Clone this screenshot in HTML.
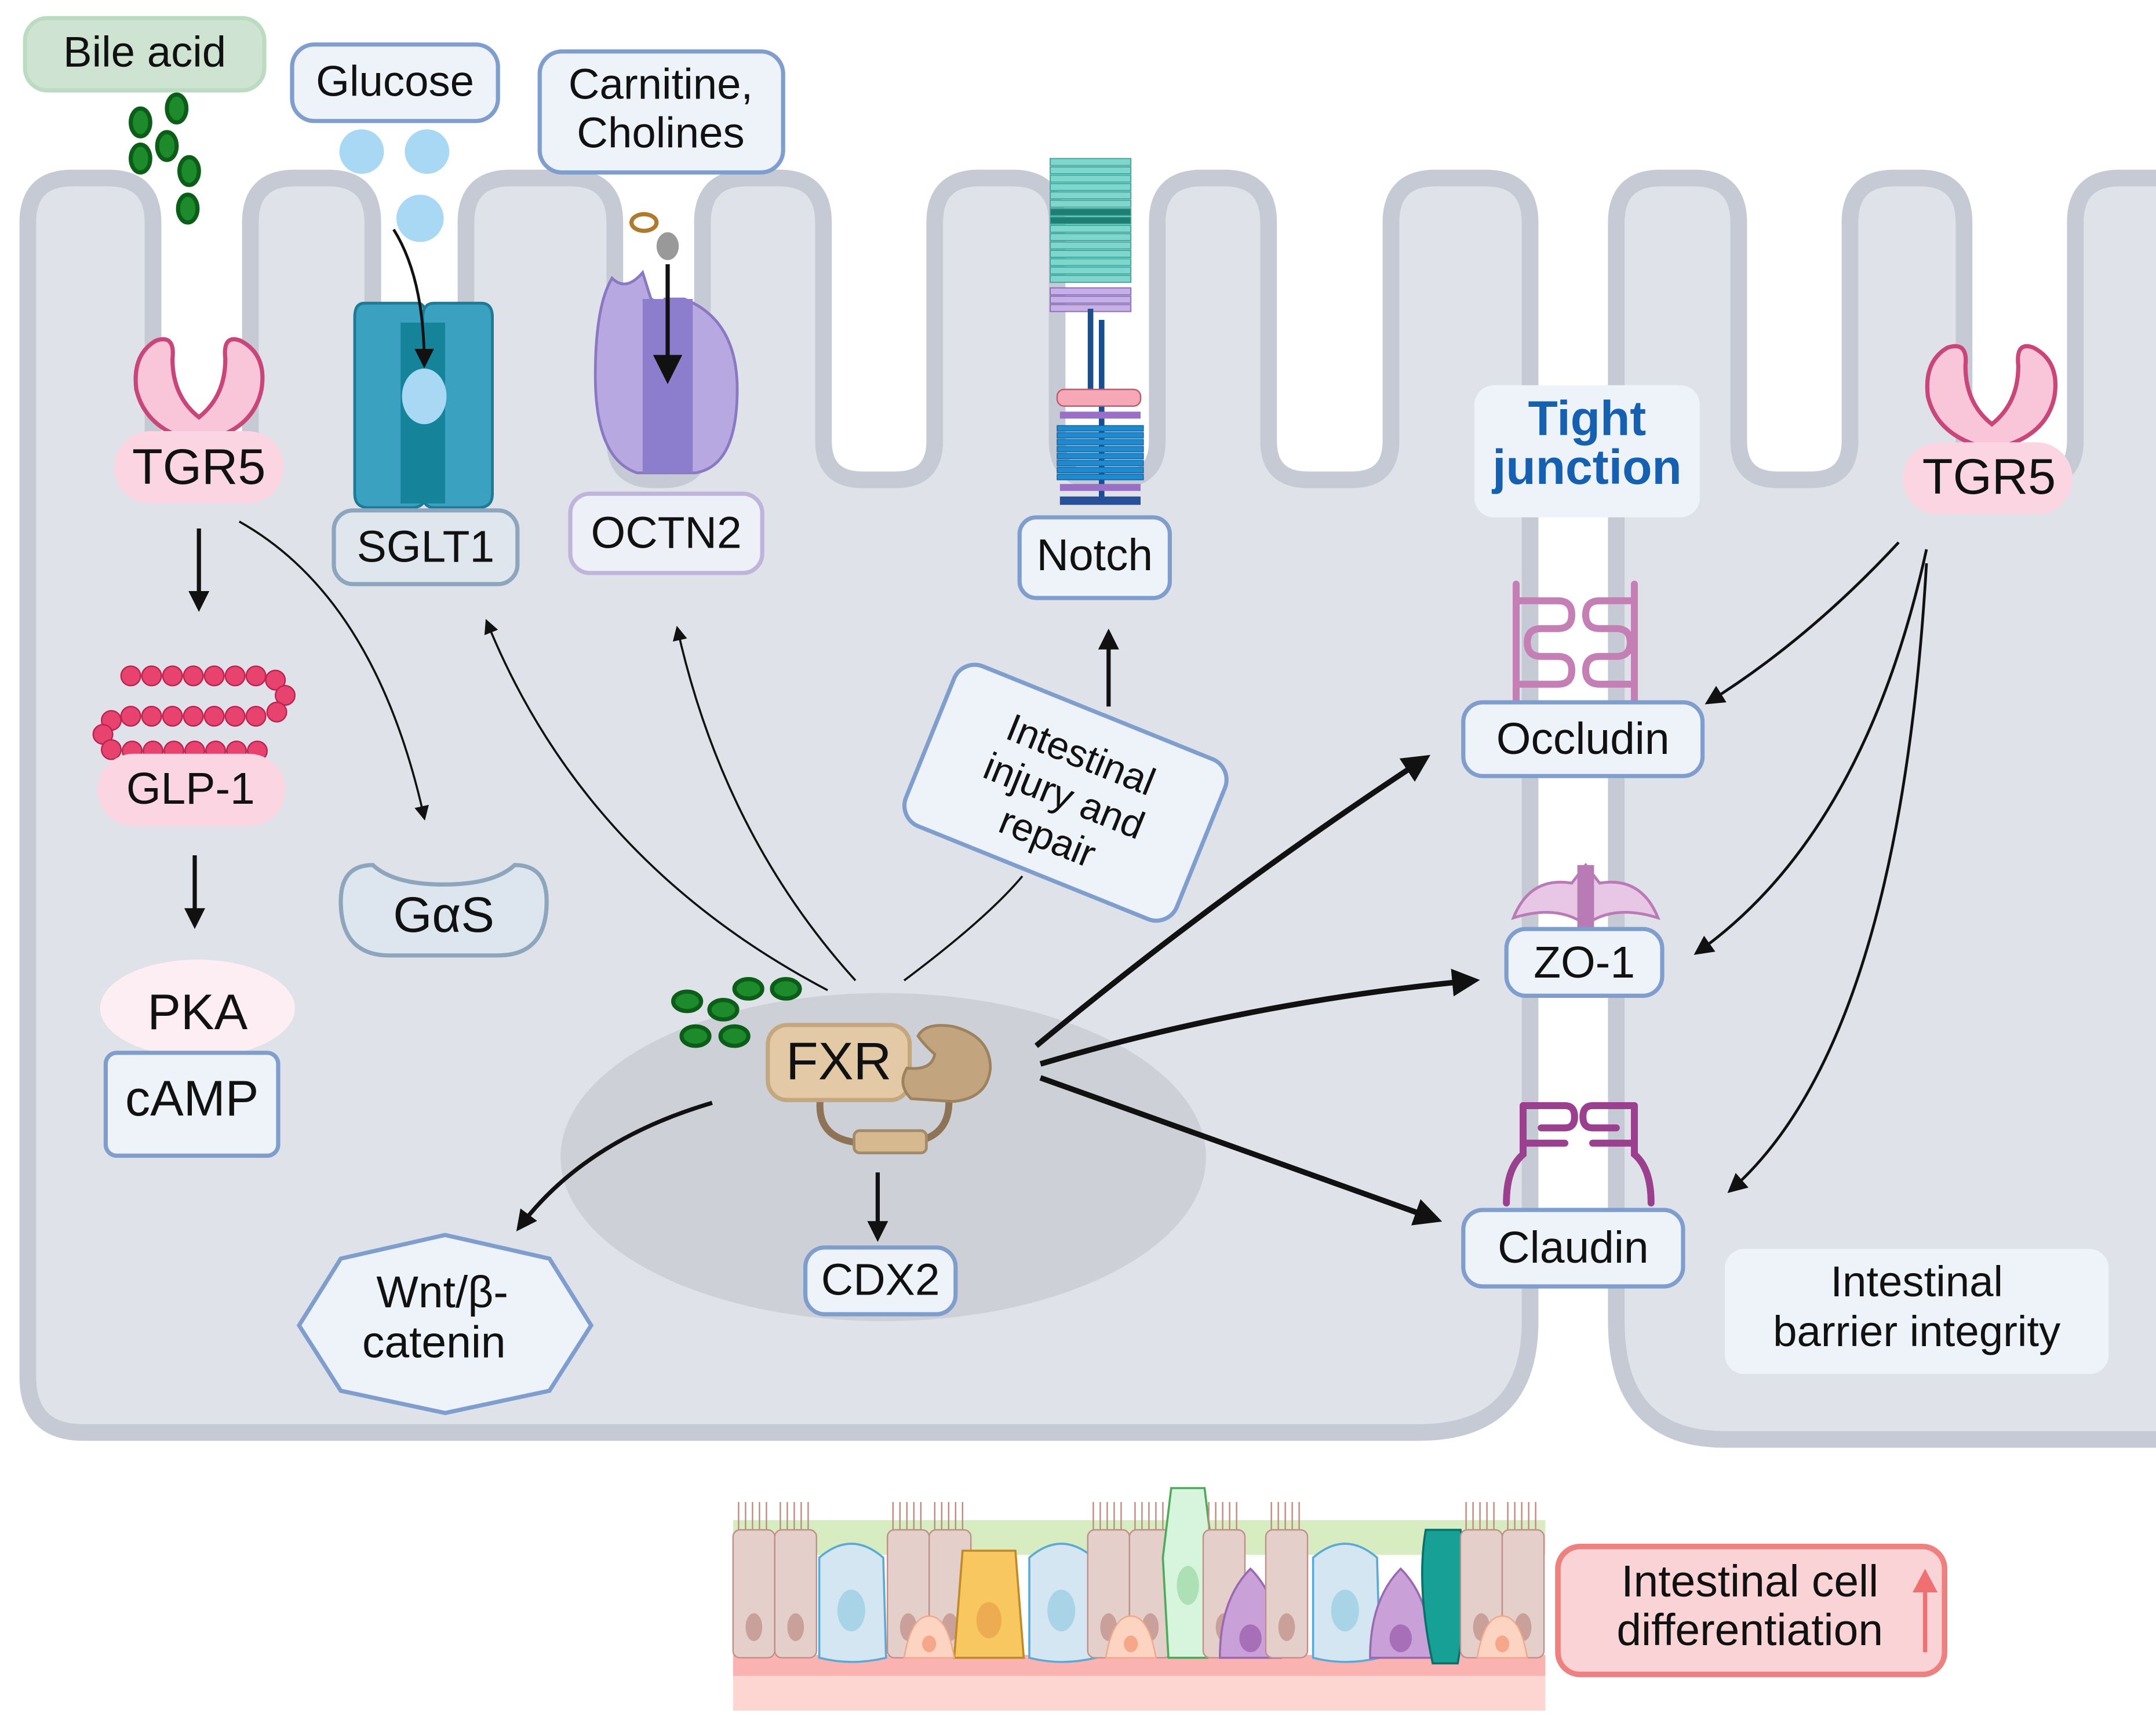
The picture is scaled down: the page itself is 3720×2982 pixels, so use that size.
<!DOCTYPE html>
<html><head><meta charset="utf-8"><style>
html,body{margin:0;padding:0;background:#fff;}
svg{display:block;}
text{font-family:"Liberation Sans",sans-serif;fill:#111;}
</style></head><body>
<svg id="s" width="3720" height="2982" viewBox="0 0 1550 1242.5" xmlns="http://www.w3.org/2000/svg">
<defs>
<marker id="ah" viewBox="0 0 10 10" refX="8" refY="5" markerWidth="5" markerHeight="5" orient="auto-start-reverse"><path d="M0,0 L10,5 L0,10 z" fill="#111"/></marker>
<marker id="ahs" viewBox="0 0 10 10" refX="8" refY="5" markerWidth="7" markerHeight="7" orient="auto"><path d="M0,0 L10,5 L0,10 z" fill="#111"/></marker>
<linearGradient id="g1" x1="0" y1="0" x2="1" y2="0"><stop offset="0" stop-color="#777" stop-opacity="0.3"/><stop offset="0.3" stop-color="#222"/></linearGradient>
</defs>
<path id="lc" fill="#dfe3e9" stroke="#c6cad4" stroke-width="12"/>
<path id="rc" fill="#dfe3e9" stroke="#c6cad4" stroke-width="12"/>

<!-- nucleus -->
<ellipse cx="635" cy="832" rx="232" ry="118" fill="#cdd1d7"/>

<!-- Bile acid -->
<rect x="18" y="13" width="172" height="52" rx="16" fill="#cfe3d3" stroke="#bcdcc2" stroke-width="3"/>
<text x="104" y="48" font-size="31" text-anchor="middle">Bile acid</text>
<g fill="#1d8a2c" stroke="#0b5d17" stroke-width="3">
<ellipse cx="127" cy="78" rx="7" ry="10"/><ellipse cx="101" cy="88" rx="7" ry="10"/><ellipse cx="120" cy="105" rx="7" ry="10"/><ellipse cx="101" cy="114" rx="7" ry="10"/><ellipse cx="136" cy="123" rx="7" ry="10"/><ellipse cx="135" cy="150" rx="7" ry="10"/>
</g>
<!-- Glucose -->
<rect x="210" y="32" width="148" height="55" rx="16" fill="#eef3fa" stroke="#7f9dcd" stroke-width="3"/>
<text x="284" y="69" font-size="31" text-anchor="middle">Glucose</text>
<g fill="#a8d8f3"><circle cx="260" cy="109" r="16"/><circle cx="307" cy="109" r="16"/><circle cx="302" cy="157" r="17"/></g>
<!-- Carnitine -->
<rect x="388" y="37" width="175" height="87" rx="16" fill="#eef3fa" stroke="#7f9dcd" stroke-width="3"/>
<text x="475" y="71" font-size="31" text-anchor="middle">Carnitine,</text>
<text x="475" y="106" font-size="31" text-anchor="middle">Cholines</text>
<ellipse cx="463" cy="160" rx="9" ry="6" fill="none" stroke="#b07a2c" stroke-width="3"/>
<ellipse cx="480" cy="177" rx="8" ry="10" fill="#999"/>

<!-- TGR5 left -->
<path d="M112,245 Q95,255 98,280 Q105,310 143,318 Q182,310 188,280 Q192,255 173,245 Q160,240 162,258 Q162,285 143,300 Q124,285 124,258 Q126,240 112,245Z" fill="#f9c6d9" stroke="#c9467a" stroke-width="3"/>
<rect x="82" y="310" width="122" height="52" rx="26" fill="#fcd5e3"/>
<text x="143" y="348" font-size="36" text-anchor="middle">TGR5</text>
<line x1="143" y1="380" x2="143" y2="437" stroke="#111" stroke-width="3" marker-end="url(#ah)"/>

<!-- GLP-1 chain -->
<g fill="#e8436f" stroke="#b8234f" stroke-width="1">
<circle cx="94" cy="486" r="7"/><circle cx="109" cy="486" r="7"/><circle cx="124" cy="486" r="7"/><circle cx="139" cy="486" r="7"/><circle cx="154" cy="486" r="7"/><circle cx="169" cy="486" r="7"/><circle cx="184" cy="486" r="7"/><circle cx="198" cy="489" r="7"/><circle cx="205" cy="500" r="7"/><circle cx="199" cy="512" r="7"/>
<circle cx="184" cy="515" r="7"/><circle cx="169" cy="515" r="7"/><circle cx="154" cy="515" r="7"/><circle cx="139" cy="515" r="7"/><circle cx="124" cy="515" r="7"/><circle cx="109" cy="515" r="7"/><circle cx="94" cy="515" r="7"/><circle cx="80" cy="518" r="7"/><circle cx="74" cy="528" r="7"/><circle cx="80" cy="539" r="7"/>
<circle cx="95" cy="540" r="7"/><circle cx="110" cy="540" r="7"/><circle cx="125" cy="540" r="7"/><circle cx="140" cy="540" r="7"/><circle cx="155" cy="540" r="7"/><circle cx="170" cy="540" r="7"/><circle cx="185" cy="540" r="7"/>
</g>
<rect x="70" y="542" width="135" height="52" rx="26" fill="#fcd5e3"/>
<text x="137" y="578" font-size="32" text-anchor="middle">GLP-1</text>
<line x1="140" y1="615" x2="140" y2="665" stroke="#111" stroke-width="3" marker-end="url(#ah)"/>
<ellipse cx="142" cy="725" rx="70" ry="35" fill="#fdeef4"/>
<text x="142" y="740" font-size="36" text-anchor="middle">PKA</text>
<rect x="76" y="757" width="124" height="74" rx="8" fill="#eef3fa" stroke="#7f9dcd" stroke-width="3"/>
<text x="138" y="802" font-size="36" text-anchor="middle">cAMP</text>

<!-- TGR5 -> GaS -->
<path d="M172,375 Q270,430 305,588" fill="none" stroke="#111" stroke-width="1.5" marker-end="url(#ahs)"/>
<path d="M268,622 Q245,622 245,648 Q245,687 280,687 L358,687 Q393,687 393,648 Q393,622 370,622 Q355,636 319,636 Q283,636 268,622Z" fill="#dde5ee" stroke="#8ea6bd" stroke-width="3"/>
<text x="319" y="670" font-size="36" text-anchor="middle">GαS</text>

<!-- SGLT1 -->
<path d="M262,218 L300,218 Q306,218 306,228 L306,355 Q306,365 296,365 L265,365 Q255,365 255,355 L255,228 Q255,218 262,218Z" fill="#3aa2c0" stroke="#1e7a96" stroke-width="2"/>
<path d="M312,218 L346,218 Q354,218 354,228 L354,355 Q354,365 344,365 L312,365 Q304,365 304,355 L304,228 Q304,218 312,218Z" fill="#3aa2c0" stroke="#1e7a96" stroke-width="2"/>
<rect x="288" y="232" width="32" height="130" fill="#15839a"/>
<ellipse cx="305" cy="285" rx="16" ry="20" fill="#a8d8f3"/>
<path d="M283,165 Q305,200 305,262" fill="none" stroke="#111" stroke-width="2" marker-end="url(#ahs)"/>
<rect x="240" y="367" width="132" height="53" rx="14" fill="#dfe6ee" stroke="#8ea6bd" stroke-width="3"/>
<text x="306" y="404" font-size="32" text-anchor="middle">SGLT1</text>

<!-- OCTN2 -->
<path d="M440,200 Q450,210 462,196 L468,215 Q478,215 478,340 L458,340 Q428,330 428,270 Q428,220 440,200Z" fill="#b8a8e2" stroke="#8a78c2" stroke-width="2"/>
<path d="M492,215 Q530,230 530,280 Q530,335 500,340 L478,340 L478,215Z" fill="#b8a8e2" stroke="#8a78c2" stroke-width="2"/>
<rect x="462" y="215" width="36" height="125" fill="#8c7dcd"/>
<line x1="480" y1="190" x2="480" y2="272" stroke="#111" stroke-width="3" marker-end="url(#ahs)"/>
<rect x="410" y="355" width="138" height="57" rx="14" fill="#eef0f7" stroke="#c0b3dc" stroke-width="3"/>
<text x="479" y="394" font-size="32" text-anchor="middle">OCTN2</text>

<!-- Notch -->
<g id="notch"></g>
<rect x="733" y="372" width="108" height="58" rx="12" fill="#eef3fa" stroke="#7f9dcd" stroke-width="3"/>
<text x="787" y="410" font-size="32" text-anchor="middle">Notch</text>

<!-- Tight junction -->
<rect x="1060" y="277" width="162" height="95" rx="14" fill="#eef3fa"/>
<text x="1141" y="313" font-size="35" font-weight="bold" text-anchor="middle" style="fill:#1560b0">Tight</text>
<text x="1141" y="348" font-size="35" font-weight="bold" text-anchor="middle" style="fill:#1560b0">junction</text>

<!-- Occludin struct -->
<g fill="none" stroke="#c47fb5" stroke-width="5" stroke-linecap="round">
<path d="M1090,420 L1090,505 M1175,420 L1175,505"/>
<path d="M1090,432 L1120,432 Q1130,432 1130,442 Q1130,452 1120,452 L1108,452 Q1098,452 1098,462 Q1098,472 1108,472 L1120,472 Q1130,472 1130,482 Q1130,492 1120,492 L1090,492"/>
<path d="M1175,432 L1150,432 Q1140,432 1140,442 Q1140,452 1150,452 L1162,452 Q1172,452 1172,462 Q1172,472 1162,472 L1150,472 Q1140,472 1140,482 Q1140,492 1150,492 L1175,492"/>
</g>
<rect x="1052" y="505" width="172" height="53" rx="14" fill="#eef3fa" stroke="#7f9dcd" stroke-width="3"/>
<text x="1138" y="542" font-size="32" text-anchor="middle">Occludin</text>
<!-- ZO-1 struct -->
<path d="M1088,660 Q1100,630 1130,635 L1140,622 L1150,635 Q1180,630 1192,660 Q1160,650 1140,665 Q1120,650 1088,660Z" fill="#e8c6e6" stroke="#b87bb5" stroke-width="2"/>
<rect x="1134" y="622" width="12" height="46" fill="#b87bb5"/>
<rect x="1083" y="668" width="112" height="48" rx="14" fill="#eef3fa" stroke="#7f9dcd" stroke-width="3"/>
<text x="1139" y="703" font-size="32" text-anchor="middle">ZO-1</text>
<!-- Claudin struct -->
<g fill="none" stroke="#9b3f8f" stroke-width="5" stroke-linecap="round">
<path d="M1083,865 Q1083,840 1095,830 L1095,795 M1187,865 Q1187,840 1175,830 L1175,795"/>
<path d="M1095,795 L1125,795 Q1132,795 1132,803 Q1132,811 1125,811 L1108,811 M1095,822 L1125,822"/>
<path d="M1175,795 L1145,795 Q1138,795 1138,803 Q1138,811 1145,811 L1162,811 M1175,822 L1145,822"/>
</g>
<rect x="1052" y="870" width="158" height="55" rx="14" fill="#eef3fa" stroke="#7f9dcd" stroke-width="3"/>
<text x="1131" y="908" font-size="32" text-anchor="middle">Claudin</text>

<rect x="1240" y="898" width="276" height="90" rx="14" fill="#eef3fa"/>
<text x="1378" y="932" font-size="31" text-anchor="middle">Intestinal</text>
<text x="1378" y="968" font-size="31" text-anchor="middle">barrier integrity</text>

<!-- TGR5 right -->
<path d="M1400,250 Q1383,260 1386,285 Q1393,315 1432,323 Q1471,315 1477,285 Q1481,260 1462,250 Q1449,245 1451,263 Q1451,290 1432,305 Q1413,290 1413,263 Q1415,245 1400,250Z" fill="#f9c6d9" stroke="#c9467a" stroke-width="3"/>
<rect x="1368" y="318" width="122" height="52" rx="26" fill="#fcd5e3"/>
<text x="1430" y="355" font-size="36" text-anchor="middle">TGR5</text>
<g fill="none" stroke="#111" stroke-width="2">
<path d="M1365,390 Q1300,460 1228,505" marker-end="url(#ahs)"/>
<path d="M1385,395 Q1340,600 1220,685" marker-end="url(#ahs)"/>
<path d="M1385,405 Q1365,750 1244,856" marker-end="url(#ahs)"/>
</g>

<!-- Injury box -->
<g transform="translate(766,570) rotate(22)">
<rect x="-105" y="-62" width="210" height="124" rx="16" fill="#eef3fa" stroke="#7f9dcd" stroke-width="3"/>
<text x="0" y="-20" font-size="28" text-anchor="middle">Intestinal</text>
<text x="0" y="12" font-size="28" text-anchor="middle">injury and</text>
<text x="0" y="44" font-size="28" text-anchor="middle">repair</text>
</g>
<line x1="797" y1="508" x2="797" y2="455" stroke="#111" stroke-width="3" marker-end="url(#ah)"/>

<!-- FXR arrows -->
<g fill="none" stroke="#111">
<path d="M595,712 Q420,620 350,447" stroke-width="1.5" marker-end="url(#ahs)"/>
<path d="M615,705 Q520,600 487,452" stroke-width="1.5" marker-end="url(#ahs)"/>
<path d="M650,705 Q710,660 735,630" stroke-width="1.5"/>
<path d="M745,752 Q880,640 1025,545" stroke-width="4" marker-end="url(#ah)"/>
<path d="M748,765 Q900,720 1060,705" stroke-width="4" marker-end="url(#ah)"/>
<path d="M748,775 Q900,830 1033,877" stroke-width="4" marker-end="url(#ah)"/>
<path d="M512,793 Q420,820 373,883" stroke-width="3" marker-end="url(#ah)"/>
<path d="M631,843 L631,890" stroke-width="3" marker-end="url(#ah)"/>
</g>

<!-- FXR -->
<g fill="#1d8a2c" stroke="#0b5d17" stroke-width="3">
<ellipse cx="494" cy="720" rx="10" ry="7"/><ellipse cx="520" cy="726" rx="10" ry="7"/><ellipse cx="538" cy="711" rx="10" ry="7"/><ellipse cx="565" cy="711" rx="10" ry="7"/><ellipse cx="500" cy="745" rx="10" ry="7"/><ellipse cx="528" cy="745" rx="10" ry="7"/>
</g>
<path d="M590,788 Q585,822 625,822 L645,822 Q685,822 682,788" fill="none" stroke="#8e7356" stroke-width="5"/>
<rect x="614" y="813" width="52" height="16" rx="4" fill="#d7b98f" stroke="#a38a69" stroke-width="2"/>
<rect x="552" y="737" width="102" height="54" rx="14" fill="#e3c9a6" stroke="#c4a67f" stroke-width="3"/>
<text x="603" y="776" font-size="38" text-anchor="middle">FXR</text>
<path d="M660,745 Q665,735 685,738 Q712,745 712,768 Q710,790 685,792 L655,790 Q645,780 652,768 Q670,770 672,758 Q665,752 660,745Z" fill="#c2a57f" stroke="#9d8260" stroke-width="2"/>

<rect x="579" y="897" width="108" height="48" rx="14" fill="#eef3fa" stroke="#7f9dcd" stroke-width="3"/>
<text x="633" y="931" font-size="32" text-anchor="middle">CDX2</text>
<polygon points="215,953 245,905 320,888 395,905 425,953 395,1000 320,1016 245,1000" fill="#eef3fa" stroke="#7f9dcd" stroke-width="3"/>
<text x="318" y="940" font-size="32" text-anchor="middle">Wnt/β-</text>
<text x="312" y="976" font-size="32" text-anchor="middle">catenin</text>

<!-- epithelium strip -->
<rect x="527" y="1093" width="584" height="25" fill="#d7ecc0"/>
<rect x="527" y="1190" width="584" height="15" fill="#fbb3b1"/>
<rect x="527" y="1205" width="584" height="25" fill="#fdd6d2"/>
<g id="epi"></g>

<rect x="1120" y="1112" width="278" height="92" rx="16" fill="#f9d3d5" stroke="#ef8080" stroke-width="4"/>
<text x="1258" y="1148" font-size="32" text-anchor="middle">Intestinal cell</text>
<text x="1258" y="1183" font-size="32" text-anchor="middle">differentiation</text>
<line x1="1384" y1="1188" x2="1384" y2="1135" stroke="#ef7070" stroke-width="3"/>
<path d="M1375,1145 L1384,1128 L1393,1145Z" fill="#ef7070"/>
</svg>
<script>
(function(){
var T=128,G=345,r=32,g=28;
function build(f,start,end){
 var d=start;
 for(var i=0;i<f.length;i++){
  var a=f[i][0],b=f[i][1];
  if(i>0){d+=" L"+a+","+(T+r);} 
  d+=" Q"+a+","+T+" "+(a+r)+","+T+" L"+(b-r)+","+T+" Q"+b+","+T+" "+b+","+(T+r);
  if(i<f.length-1){var n=f[i+1][0];d+=" L"+b+","+(G-g)+" Q"+b+","+G+" "+(b+g)+","+G+" L"+(n-g)+","+G+" Q"+n+","+G+" "+n+","+(G-g);}
 }
 return d+end;
}
document.getElementById("lc").setAttribute("d",build([[20,110],[180,268],[335,442],[505,592],[672,760],[832,912],[1000,1100]],"M60,1030 Q20,1030 20,990 L20,"+(T+r)," L1100,950 Q1100,1030 1020,1030 Z"));
document.getElementById("rc").setAttribute("d",build([[1162,1250],[1330,1412],[1492,1600]],"M1240,1035 Q1162,1035 1162,950 L1162,"+(T+r)," L1600,1035 Z"));
var ns="http://www.w3.org/2000/svg";
function el(p,t,a){var e=document.createElementNS(ns,t);for(var k in a)e.setAttribute(k,a[k]);p.appendChild(e);return e;}
var n=document.getElementById("notch");
for(var y=114;y<200;y+=6){el(n,"rect",{x:755,y:y,width:58,height:5,fill:(y>148&&y<162)?"#1f7d73":"#7fd6cc",stroke:"#3aa89c","stroke-width":0.8});}
for(var y=207;y<222;y+=6){el(n,"rect",{x:755,y:y,width:58,height:5,fill:"#c6b0e6",stroke:"#8a6fc0","stroke-width":0.8});}
el(n,"rect",{x:782,y:222,width:4,height:60,fill:"#1a4f8f"});
el(n,"rect",{x:790,y:230,width:4,height:130,fill:"#1a4f8f"});
el(n,"rect",{x:760,y:280,width:60,height:12,rx:5,fill:"#f7a8b6",stroke:"#c05a70"});
el(n,"rect",{x:762,y:296,width:58,height:5,fill:"#9a6fc8"});
for(var y=306;y<345;y+=5){el(n,"rect",{x:760,y:y,width:62,height:4,fill:"#1e8ad0",stroke:"#155f9a","stroke-width":0.6});}
el(n,"rect",{x:762,y:348,width:58,height:5,fill:"#9a6fc8"});
el(n,"rect",{x:762,y:357,width:58,height:6,fill:"#274f9a"});
var e=document.getElementById("epi");
var cells=[[527,"c"],[557,"c"],[587,"p"],[638,"c"],[668,"c"],[686,"o"],[738,"p"],[782,"c"],[812,"c"],[832,"g"],[865,"c"],[877,"v"],[910,"c"],[942,"p"],[985,"v"],[1020,"t"],[1050,"c"],[1080,"c"]];
cells.forEach(function(c){var x=c[0],t=c[1];
 if(t=="c"){for(var k=0;k<5;k++)el(e,"line",{x1:x+4+k*5,y1:1080,x2:x+4+k*5,y2:1102,stroke:"#c08a80","stroke-width":1});
  el(e,"rect",{x:x,y:1100,width:30,height:92,rx:5,fill:"#e5cfca",stroke:"#c09088","stroke-width":1});el(e,"ellipse",{cx:x+15,cy:1170,rx:6,ry:10,fill:"#c9a09a"});}
 else if(t=="p"){el(e,"path",{d:"M"+(x+2)+",1120 Q"+(x+25)+",1100 "+(x+48)+",1120 L"+(x+50)+",1192 Q"+(x+25)+",1198 "+(x+2)+",1192Z",fill:"#d3e6f1",stroke:"#5aa9d6","stroke-width":1.5});el(e,"ellipse",{cx:x+25,cy:1158,rx:10,ry:15,fill:"#a9d3e6"});}
 else if(t=="o"){el(e,"path",{d:"M"+(x+6)+",1115 L"+(x+44)+",1115 L"+(x+50)+",1192 L"+x+",1192Z",fill:"#f8c760",stroke:"#c08a2a","stroke-width":1.5});el(e,"ellipse",{cx:x+25,cy:1165,rx:9,ry:13,fill:"#eeac52"});}
 else if(t=="g"){el(e,"path",{d:"M"+(x+10)+",1070 L"+(x+34)+",1070 L"+(x+40)+",1120 L"+(x+36)+",1192 L"+(x+8)+",1192 L"+(x+4)+",1120Z",fill:"#d6f5dc",stroke:"#4caa5a","stroke-width":1.5});el(e,"ellipse",{cx:x+22,cy:1140,rx:8,ry:14,fill:"#aee0b6"});}
 else if(t=="v"){el(e,"path",{d:"M"+(x+22)+",1128 Q"+(x+44)+",1150 "+(x+44)+",1192 L"+x+",1192 Q"+x+",1150 "+(x+22)+",1128Z",fill:"#c9a0d8",stroke:"#9a6ab0","stroke-width":1.5});el(e,"ellipse",{cx:x+22,cy:1178,rx:8,ry:10,fill:"#a66fb8"});}
 else if(t=="t"){el(e,"path",{d:"M"+(x+5)+",1100 L"+(x+30)+",1100 Q"+(x+38)+",1140 "+(x+28)+",1196 L"+(x+10)+",1196 Q"+(x-2)+",1140 "+(x+5)+",1100Z",fill:"#16a096",stroke:"#0b6f6a","stroke-width":1.5});}
});
[[650,"f"],[795,"f"],[1062,"f"]].forEach(function(c){var x=c[0];el(e,"path",{d:"M"+x+",1192 Q"+(x+5)+",1162 "+(x+18)+",1162 Q"+(x+31)+",1162 "+(x+36)+",1192Z",fill:"#fdd3c2",stroke:"#f0a88a","stroke-width":1});el(e,"ellipse",{cx:x+18,cy:1182,rx:5,ry:6,fill:"#f6a78a"});});
})();
</script>
</body></html>
